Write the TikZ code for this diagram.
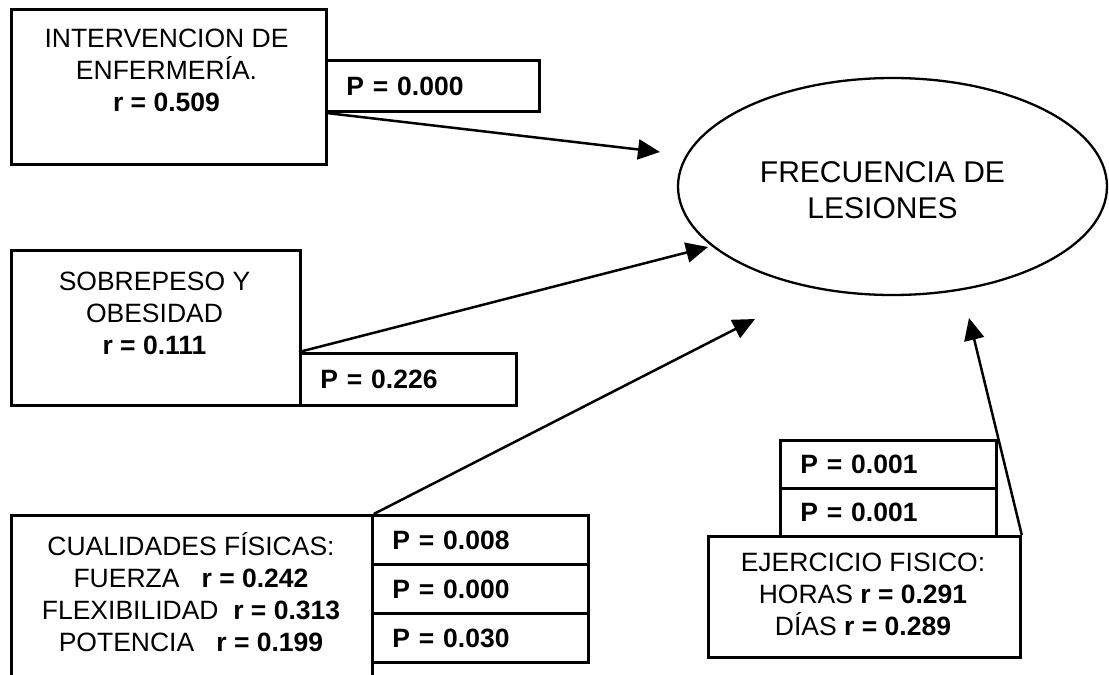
\documentclass[tikz,border=0pt]{standalone}
\usepackage{fontspec}
\setmainfont{Liberation Sans}
\usetikzlibrary{arrows.meta,shapes.geometric}
\begin{document}
\begin{tikzpicture}[x=1pt,y=1pt,
  box/.style={draw=black,line width=2.8pt,inner sep=0pt,anchor=north west},
  txt/.style={align=center,inner sep=0pt,font=\fontsize{26.5}{32}\selectfont},
  pcell/.style={box,minimum height=49pt,text width=176pt,inner xsep=20pt,align=left,font=\fontsize{26.5}{32}\selectfont\bfseries},
  link/.style={line width=2.5pt,-{Triangle[length=22pt,width=20pt]}}]
\clip (0,0) rectangle (1109,-675);
% variables
\node [box,minimum width=315pt,minimum height=155pt] (enf) at (10,-8) {};
\node [txt] (enft) at (166.5,-70) {INTERVENCION DE\\ENFERMERÍA.\\\textbf{r = 0.509}};
\node [pcell,minimum height=51pt,text width=173pt] (penf) at (325,-59) {P = 0.000};
\node [box,minimum width=289pt,minimum height=155pt] (sob) at (10,-249) {};
\node [txt] (sobt) at (154.5,-313) {SOBREPESO Y\\OBESIDAD\\\textbf{r = 0.111}};
\node [pcell,minimum height=52pt] (psob) at (299,-352) {P = 0.226};
\node [box,minimum width=361pt,minimum height=200pt] (cua) at (10,-514) {};
\node [txt] (cuat) at (191,-592) {CUALIDADES FÍSICAS:\\FUERZA\ \ \ \textbf{r = 0.242}\\FLEXIBILIDAD\ \ \textbf{r = 0.313}\\POTENCIA\ \ \ \textbf{r = 0.199}};
\node [pcell] (pfue) at (371,-514) {P = 0.008};
\node [pcell] (pfle) at (371,-563) {P = 0.000};
\node [pcell] (ppot) at (371,-612) {P = 0.030};
\node [pcell,minimum height=48pt] (phor) at (779,-439) {P = 0.001};
\node [pcell,minimum height=48pt] (pdia) at (779,-487) {P = 0.001};
\node [box,fill=white,minimum width=312pt,minimum height=121pt] (eje) at (707,-535) {};
\node [txt] (ejet) at (863,-594) {EJERCICIO FISICO:\\HORAS \textbf{r = 0.291}\\DÍAS \textbf{r = 0.289}};
% outcome
\node [draw=black,ellipse,line width=2.3pt,inner sep=0pt,minimum width=429pt,minimum height=217pt] (frec) at (892.5,-186.5) {};
\node [align=center,inner sep=0pt,font=\fontsize{30}{36}\selectfont] (frect) at (882.5,-190) {FRECUENCIA DE\\LESIONES};
% arrow tips
\coordinate (t1) at (660,-152);
\coordinate (t2) at (708,-247);
\coordinate (t3) at (755,-319);
\coordinate (t4) at (969,-318);
\draw [link] (penf.south west) -- (t1);
\draw [link] (psob.north west) -- (t2);
\draw [link] (cua.north east) -- (t3);
\draw [link] (eje.north east) -- (t4);
\end{tikzpicture}
\end{document}
